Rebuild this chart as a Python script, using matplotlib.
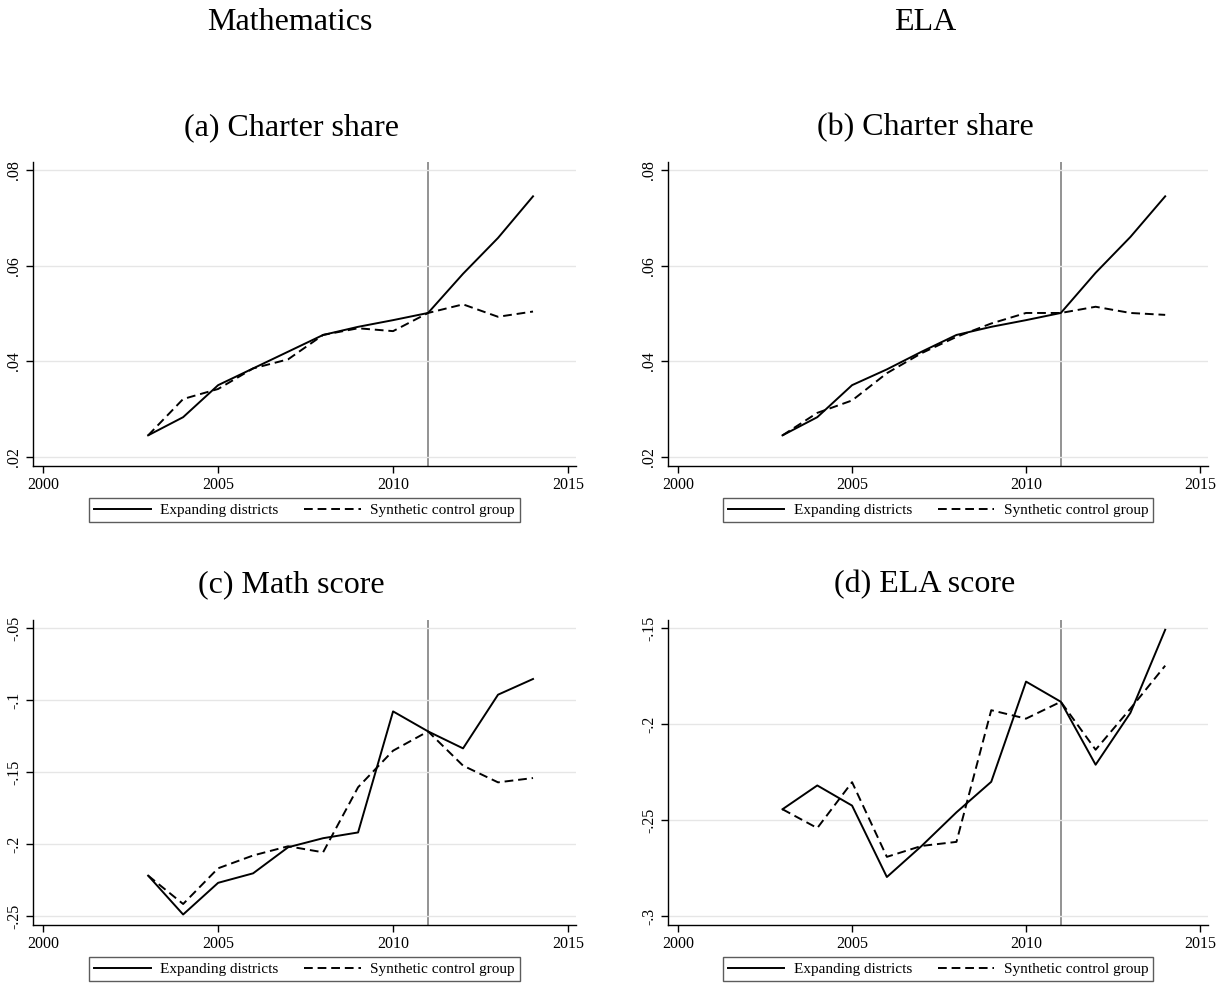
"""
Charter expansion: expanding districts vs synthetic control group
"""
import matplotlib
matplotlib.use('Agg')
import matplotlib.pyplot as plt

plt.rcParams['font.family'] = ['Liberation Serif', 'DejaVu Serif']

years = list(range(2003, 2015))

# (a) Mathematics - charter share
math_share_exp = [0.0245, 0.0283, 0.0350, 0.0385, 0.0420, 0.0455, 0.0472,
                  0.0486, 0.0501, 0.0583, 0.0658, 0.0745]
math_share_syn = [0.0245, 0.0321, 0.0342, 0.0385, 0.0404, 0.0455, 0.0469,
                  0.0463, 0.0501, 0.0519, 0.0493, 0.0504]

# (b) ELA - charter share
ela_share_exp = [0.0245, 0.0283, 0.0350, 0.0383, 0.0420, 0.0455, 0.0472,
                 0.0486, 0.0501, 0.0585, 0.0660, 0.0745]
ela_share_syn = [0.0245, 0.0292, 0.0318, 0.0375, 0.0417, 0.0451, 0.0479,
                 0.0501, 0.0501, 0.0514, 0.0501, 0.0497]

# (c) Math score
math_score_exp = [-0.222, -0.249, -0.227, -0.2204, -0.2023, -0.196, -0.192,
                  -0.1079, -0.1218, -0.1336, -0.0963, -0.0854]
math_score_syn = [-0.222, -0.2417, -0.2169, -0.208, -0.2016, -0.2058, -0.1606,
                  -0.1352, -0.1218, -0.1456, -0.1572, -0.1542]

# (d) ELA score
ela_score_exp = [-0.2444, -0.232, -0.2425, -0.2797, -0.2635, -0.246, -0.2301,
                 -0.1779, -0.1884, -0.2212, -0.1942, -0.1509]
ela_score_syn = [-0.2444, -0.2542, -0.2303, -0.2692, -0.2635, -0.2614, -0.1928,
                 -0.1972, -0.1884, -0.2134, -0.192, -0.1696]

share_ticks = [0.02, 0.04, 0.06, 0.08]
share_labels = ['.02', '.04', '.06', '.08']
math_ticks = [-0.25, -0.2, -0.15, -0.1, -0.05]
math_labels = ['-.25', '-.2', '-.15', '-.1', '-.05']
ela_ticks = [-0.3, -0.25, -0.2, -0.15]
ela_labels = ['-.3', '-.25', '-.2', '-.15']
x_ticks = [2000, 2005, 2010, 2015]
treat_year = 2011


def draw_panel(ax, exp, syn, yticks, ylabels, ylim):
    ax.grid(axis='y', color='#e6e6e6', linewidth=1.0, zorder=0)
    ax.axvline(treat_year, color='#808080', linewidth=1.2, zorder=1)
    ax.plot(years, exp, color='black', linewidth=1.4, label='Expanding districts', zorder=3)
    ax.plot(years, syn, color='black', linewidth=1.4, linestyle=(0, (4.5, 2.5)),
            label='Synthetic control group', zorder=3)
    ax.set_xlim(1999.71, 2015.23)
    ax.set_ylim(*ylim)
    ax.set_xticks(x_ticks)
    ax.set_xticklabels([str(t) for t in x_ticks])
    ax.set_yticks(yticks)
    ax.set_yticklabels(ylabels, rotation=90, va='center')
    for s in ['top', 'right']:
        ax.spines[s].set_visible(False)
    for s in ['left', 'bottom']:
        ax.spines[s].set_linewidth(1.0)
    ax.tick_params(direction='out', length=5, width=1.0, labelsize=11.5, pad=3)
    leg = ax.legend(loc='upper center', bbox_to_anchor=(0.5, -0.105), ncol=2,
                    frameon=True, fancybox=False, fontsize=11, handlelength=3.7,
                    handletextpad=0.6, columnspacing=1.7, borderpad=0.35,
                    borderaxespad=0)
    leg.get_frame().set_edgecolor('#333333')
    leg.get_frame().set_linewidth(1.0)


fig = plt.figure(figsize=(12.28, 9.83), dpi=100)

ax_a = fig.add_axes([0.0269, 0.526, 0.4422, 0.3093])
ax_b = fig.add_axes([0.5440, 0.526, 0.4397, 0.3093])
ax_c = fig.add_axes([0.0269, 0.059, 0.4422, 0.3103])
ax_d = fig.add_axes([0.5440, 0.059, 0.4397, 0.3103])

draw_panel(ax_a, math_share_exp, math_share_syn, share_ticks, share_labels, (0.0181, 0.0817))
draw_panel(ax_b, ela_share_exp, ela_share_syn, share_ticks, share_labels, (0.0181, 0.0817))
draw_panel(ax_c, math_score_exp, math_score_syn, math_ticks, math_labels, (-0.2563, -0.0444))
draw_panel(ax_d, ela_score_exp, ela_score_syn, ela_ticks, ela_labels, (-0.3047, -0.1458))

# column and panel titles
fig.text(290 / 1228, 1 - 23 / 983, 'Mathematics', ha='center', va='center', fontsize=23)
fig.text(925 / 1228, 1 - 23 / 983, 'ELA', ha='center', va='center', fontsize=23)
fig.text(291 / 1228, 1 - 128 / 983, '(a) Charter share', ha='center', va='center', fontsize=23)
fig.text(925 / 1228, 1 - 128 / 983, '(b) Charter share', ha='center', va='center', fontsize=23)
fig.text(291 / 1228, 1 - 585 / 983, '(c) Math score', ha='center', va='center', fontsize=23)
fig.text(925 / 1228, 1 - 585 / 983, '(d) ELA score', ha='center', va='center', fontsize=23)

fig.savefig('out.png', dpi=100, facecolor='white')
